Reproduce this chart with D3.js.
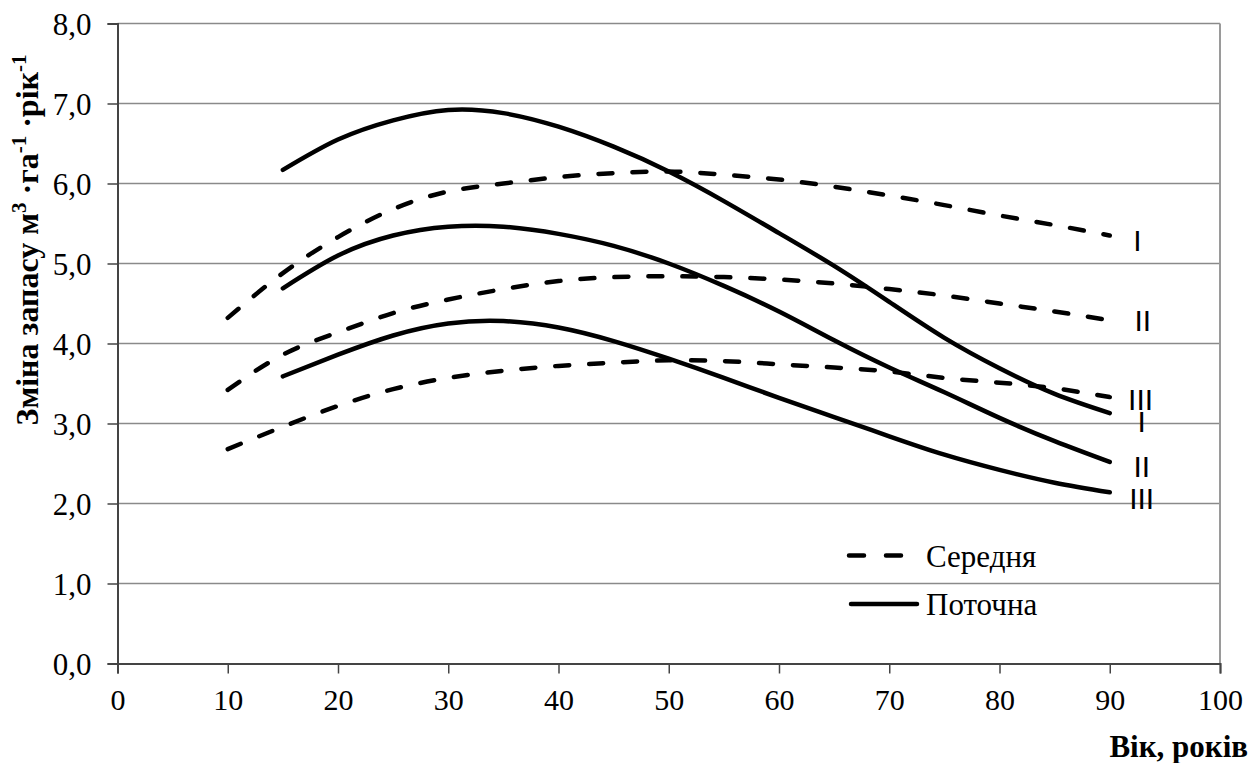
<!DOCTYPE html>
<html><head><meta charset="utf-8">
<script src="https://cdn.jsdelivr.net/npm/d3@7"></script>
<style>
html,body{margin:0;padding:0;background:#fff;}
svg{display:block;}
text{font-family:"Liberation Serif","Times New Roman",serif;fill:#000;}
</style></head><body>
<svg id="chart" width="1252" height="763"></svg>
<script>
// ---- data ----
const xTicks = [0,10,20,30,40,50,60,70,80,90,100];
const yTicks = [0,1,2,3,4,5,6,7,8];
const agesMean = [10,15,20,25,30,35,40,45,50,55,60,65,70,75,80,85,90];
const agesCur  = [15,20,25,30,35,40,45,50,55,60,65,70,75,80,85,90];
const meanI   = [4.32,4.88,5.33,5.68,5.90,6.00,6.08,6.13,6.15,6.11,6.05,5.96,5.85,5.73,5.60,5.48,5.35];
const meanII  = [3.42,3.86,4.14,4.38,4.55,4.68,4.78,4.83,4.84,4.83,4.80,4.75,4.68,4.60,4.50,4.40,4.29];
const meanIII = [2.68,2.96,3.22,3.43,3.57,3.66,3.72,3.76,3.79,3.78,3.74,3.70,3.65,3.57,3.51,3.44,3.33];
const curI    = [6.17,6.55,6.79,6.92,6.88,6.71,6.46,6.15,5.78,5.38,4.97,4.52,4.07,3.69,3.37,3.13];
const curII   = [4.69,5.10,5.35,5.46,5.46,5.37,5.22,5.00,4.72,4.40,4.04,3.70,3.39,3.07,2.78,2.52];
const curIII  = [3.59,3.86,4.10,4.25,4.28,4.20,4.03,3.81,3.57,3.32,3.08,2.84,2.61,2.42,2.26,2.14];
const classLabels = ["I","II","III","I","II","III"];
const labelAges   = [92.5,93.0,92.8,92.9,92.9,92.9];
const labelVals   = [5.16,4.16,3.17,2.90,2.33,1.93];
const legendNames = ["Середня","Поточна"];
const xTitle = "Вік, років";

// ---- layout ----
const svg = d3.select("#chart");
const x = d3.scaleLinear().domain([0,100]).range([117.5,1220]);
const y = d3.scaleLinear().domain([0,8]).range([663.5,23.5]);
const gridColor = "#8a8a8a", axisColor = "#444";

// gridlines
svg.append("g").selectAll("line").data(yTicks.filter(d=>d>0)).join("line")
  .attr("x1",x(0)).attr("x2",x(100)).attr("y1",d=>y(d)).attr("y2",d=>y(d))
  .attr("stroke",gridColor).attr("stroke-width",1.5);
// right border
svg.append("line").attr("x1",x(100)).attr("x2",x(100)).attr("y1",y(8)).attr("y2",y(0))
  .attr("stroke","#9a9a9a").attr("stroke-width",2);

// axes
const xAxis = svg.append("g").attr("transform",`translate(0,${y(0)})`)
  .call(d3.axisBottom(x).tickValues(xTicks).tickSize(10).tickPadding(15).tickFormat(d3.format("d")));
const yAxis = svg.append("g").attr("transform",`translate(${x(0)},0)`)
  .call(d3.axisLeft(y).tickValues(yTicks).tickSize(10).tickPadding(16).tickFormat(d=>d3.format(".1f")(d).replace(".",",")));
[xAxis,yAxis].forEach(a=>{
  a.select(".domain").attr("stroke",axisColor).attr("stroke-width",2);
  a.selectAll(".tick line").attr("stroke",axisColor).attr("stroke-width",1.5);
  a.selectAll(".tick text").attr("font-family","Liberation Serif").attr("font-size",30).attr("fill","#000");
});
xAxis.selectAll(".tick text").attr("dy","0.71em");
yAxis.selectAll(".tick text").attr("dy","0.37em").attr("font-size",31);

// curves
const line = d3.line().x(d=>x(d[0])).y(d=>y(d[1])).curve(d3.curveNatural);
const series = [
  {ages:agesMean, vals:meanI, dash:true},
  {ages:agesMean, vals:meanII, dash:true},
  {ages:agesMean, vals:meanIII, dash:true},
  {ages:agesCur, vals:curI, dash:false},
  {ages:agesCur, vals:curII, dash:false},
  {ages:agesCur, vals:curIII, dash:false}
];
svg.append("g").selectAll("path").data(series).join("path")
  .attr("d",s=>line(s.ages.map((a,i)=>[a,s.vals[i]])))
  .attr("fill","none").attr("stroke","#000").attr("stroke-width",4.5)
  .attr("stroke-linecap","round")
  .attr("stroke-dasharray",s=>s.dash?"14,20":null);

// class labels
svg.append("g").selectAll("text").data(classLabels).join("text")
  .attr("x",(d,i)=>x(labelAges[i])).attr("y",(d,i)=>y(labelVals[i]))
  .attr("text-anchor","middle")
  .style("font-family","'Liberation Sans',Arial,sans-serif").attr("font-size",30)
  .text(d=>d);

// legend
const leg = svg.append("g");
const legY = [y(1.35), y(0.745)];
leg.append("line").attr("x1",849).attr("x2",905).attr("y1",legY[0]).attr("y2",legY[0])
  .attr("stroke","#000").attr("stroke-width",4.5).attr("stroke-linecap","round").attr("stroke-dasharray","15,22");
leg.append("line").attr("x1",851).attr("x2",917).attr("y1",legY[1]).attr("y2",legY[1])
  .attr("stroke","#000").attr("stroke-width",4.5).attr("stroke-linecap","round");
leg.selectAll("text").data(legendNames).join("text")
  .attr("x",926).attr("y",(d,i)=>legY[i]+11).attr("font-size",31).text(d=>d);

// x title
svg.append("text").attr("x",1248).attr("y",757).attr("text-anchor","end")
  .attr("font-size",31).attr("font-weight","bold").text(xTitle);

// y title
const yt = svg.append("text").attr("transform","translate(38,240) rotate(-90)")
  .attr("text-anchor","middle").attr("font-size",32).attr("font-weight","bold");
yt.append("tspan").text("Зміна запасу м");
yt.append("tspan").attr("baseline-shift","super").attr("font-size",21).text("3");
yt.append("tspan").text(" ·га");
yt.append("tspan").attr("baseline-shift","super").attr("font-size",21).text("-1");
yt.append("tspan").text(" ·рік");
yt.append("tspan").attr("baseline-shift","super").attr("font-size",21).text("-1");
</script>
</body></html>
